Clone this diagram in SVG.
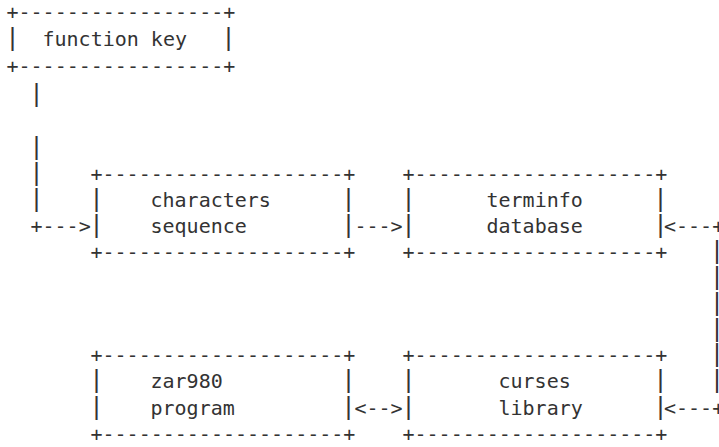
<svg xmlns="http://www.w3.org/2000/svg" width="719" height="447" viewBox="0 0 719 447">
<style>
  text { font-family: "DejaVu Sans Mono", monospace; font-size: 20px; fill: #333333; }
  .v { font-family: "Liberation Mono", "DejaVu Sans Mono", monospace; font-size: 25px; }
</style>
<rect width="719" height="447" fill="#ffffff"/>
<g id="function-key">
  <text x="6.5" y="18.6">+-----------------+</text>
  <text class="v" x="5" y="46">|</text>
  <text x="42.5" y="46">function key</text>
  <text class="v" x="221" y="46">|</text>
  <text x="6.5" y="73">+-----------------+</text>
</g>
<g id="characters-sequence">
  <text x="90.5" y="181">+--------------------+</text>
  <text class="v" x="89" y="207">|</text>
  <text x="150.5" y="207">characters</text>
  <text class="v" x="341" y="207">|</text>
  <text class="v" x="89" y="233">|</text>
  <text x="150.5" y="233">sequence</text>
  <text class="v" x="341" y="233">|</text>
  <text x="90.5" y="259">+--------------------+</text>
</g>
<g id="terminfo-database">
  <text x="402.5" y="181">+--------------------+</text>
  <text class="v" x="401" y="207">|</text>
  <text x="486.5" y="207">terminfo</text>
  <text class="v" x="653" y="207">|</text>
  <text class="v" x="401" y="233">|</text>
  <text x="486.5" y="233">database</text>
  <text class="v" x="653" y="233">|</text>
  <text x="402.5" y="259">+--------------------+</text>
</g>
<g id="zar980-program">
  <text x="90.5" y="361.8">+--------------------+</text>
  <text class="v" x="89" y="388.2">|</text>
  <text x="150.5" y="388.2">zar980</text>
  <text class="v" x="341" y="388.2">|</text>
  <text class="v" x="89" y="414.6">|</text>
  <text x="150.5" y="414.6">program</text>
  <text class="v" x="341" y="414.6">|</text>
  <text x="90.5" y="441">+--------------------+</text>
</g>
<g id="curses-library">
  <text x="402.5" y="361.8">+--------------------+</text>
  <text class="v" x="401" y="388.2">|</text>
  <text x="498.5" y="388.2">curses</text>
  <text class="v" x="653" y="388.2">|</text>
  <text class="v" x="401" y="414.6">|</text>
  <text x="498.5" y="414.6">library</text>
  <text class="v" x="653" y="414.6">|</text>
  <text x="402.5" y="441">+--------------------+</text>
</g>
<g id="connectors">
  <text class="v" x="29" y="102">|</text>
  <text class="v" x="29" y="155">|</text>
  <text class="v" x="29" y="181">|</text>
  <text class="v" x="29" y="207">|</text>
  <text x="30.5" y="233">+---&gt;</text>
  <text x="354.5" y="233">---&gt;</text>
  <text x="664" y="233">&lt;---+</text>
  <text class="v" x="709.5" y="259">|</text>
  <text class="v" x="709.5" y="285">|</text>
  <text class="v" x="709.5" y="311">|</text>
  <text class="v" x="709.5" y="336.5">|</text>
  <text class="v" x="709.5" y="362">|</text>
  <text class="v" x="709.5" y="388.2">|</text>
  <text x="354.5" y="414.6">&lt;--&gt;</text>
  <text x="664" y="414.6">&lt;---+</text>
</g>
</svg>
